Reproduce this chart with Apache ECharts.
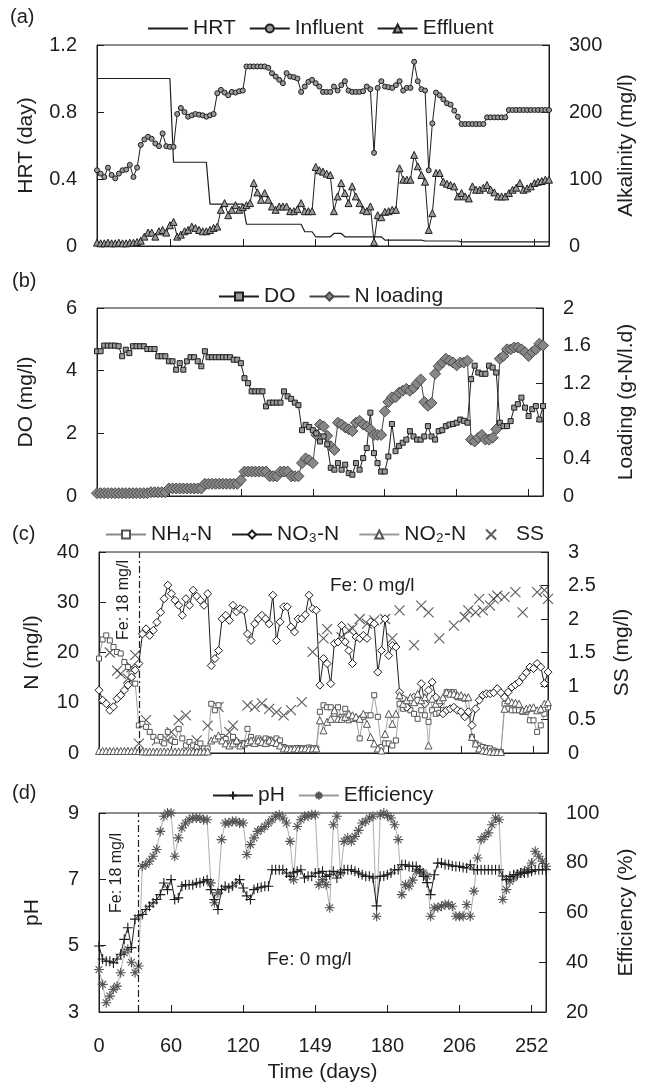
<!DOCTYPE html>
<html><head><meta charset="utf-8">
<script src="https://cdn.jsdelivr.net/npm/echarts@6/dist/echarts.min.js"></script>
<style>html,body{margin:0;padding:0;background:#fff}#c{width:645px;height:1086px}</style>
</head><body><div id="c"></div>
<script>
// ---------- DATA (sample index 0..124; ticks every 20 samples) ----------
const xLabels = ['0','60','120','149','180','206','252'];
const sampleNo = Array.from({length:125}, (_, i) => String(i));
const feChangeIdx = 11;

// (a) HRT (day), Influent / Effluent alkalinity (mg/l)
const hrt = [
 1,1,1,1,1,1,1,1,1,1,
 1,1,1,1,1,1,1,1,1,1,
 1,0.5,0.5,0.5,0.5,0.5,0.5,0.5,0.5,0.5,
 0.5,0.25,0.25,0.25,0.25,0.25,0.25,0.25,0.25,0.25,
 0.25,0.13,0.13,0.13,0.13,0.13,0.13,0.13,0.13,0.13,
 0.13,0.13,0.13,0.13,0.13,0.13,0.13,0.085,0.085,0.085,
 0.055,0.055,0.055,0.055,0.055,0.075,0.075,0.075,0.055,0.055,
 0.055,0.055,0.055,0.055,0.055,0.055,0.055,0.055,0.055,0.035,
 0.035,0.035,0.035,0.035,0.035,0.035,0.035,0.035,0.035,0.035,
 0.03,0.03,0.03,0.03,0.03,0.03,0.03,0.03,0.03,0.03,
 0.025,0.025,0.025,0.025,0.025,0.025,0.025,0.025,0.025,0.025,
 0.025,0.025,0.025,0.025,0.025,0.025,0.025,0.025,0.025,0.025,
 0.025,0.025,0.025,0.025,0.025];
const influent = [
 113,108,103,117,106,101,108,113,114,121,
 103,117,151,159,163,160,153,149,168,149,
 148,148,197,206,200,193,195,197,196,195,
 193,195,197,228,233,229,225,230,229,231,
 232,268,268,268,268,268,268,266,258,253,
 248,243,258,253,252,250,230,238,245,248,
 243,238,230,230,230,238,232,240,246,232,
 230,230,230,231,238,234,139,236,246,238,
 237,236,240,246,232,236,236,275,246,234,
 232,113,183,229,225,219,213,211,202,193,
 182,182,182,182,182,182,182,192,192,192,
 192,192,192,203,203,203,203,203,203,203,
 203,203,203,203,203];
const effluent = [
 5,4,4,5,4,4,5,4,4,5,
 5,6,8,14,20,20,14,22,24,20,
 31,36,14,17,22,24,29,27,24,22,
 22,24,27,29,54,64,46,54,61,54,
 58,61,64,94,80,69,79,69,59,54,
 59,59,59,52,52,55,64,52,52,52,
 118,113,111,108,106,52,74,94,79,64,
 89,74,64,54,52,59,6,46,43,51,
 52,54,54,116,99,99,99,136,119,106,
 96,24,49,109,109,96,93,91,89,74,
 79,74,71,89,84,84,87,91,84,80,
 74,74,74,79,84,87,94,84,86,89,
 94,96,97,99,99];

// (b) DO (mg/l), N loading (g-N/l.d)
const dissolvedO2 = [
 4.62,4.62,4.8,4.8,4.8,4.8,4.78,4.46,4.67,4.56,
 4.78,4.78,4.78,4.78,4.69,4.69,4.69,4.46,4.46,4.46,
 4.3,4.3,4.03,4.24,4.03,4.3,4.43,4.43,4.3,4.14,
 4.62,4.43,4.43,4.43,4.43,4.43,4.43,4.43,4.35,4.35,
 4.24,3.76,3.6,3.34,3.34,3.34,3.34,2.86,2.98,2.98,
 2.98,2.98,3.34,3.18,3.1,2.98,2.9,2.1,2.27,2.2,
 2.1,2.0,1.74,1.9,1.65,0.9,0.84,1.05,0.84,1.0,
 0.73,0.68,1.05,0.84,1.21,1.53,2.66,1.37,1.05,0.78,
 0.78,1.26,2.3,1.43,1.6,1.7,1.8,2.07,1.9,1.8,
 1.8,1.9,2.23,1.9,1.8,2.07,2.1,2.23,2.28,2.3,
 2.34,2.44,2.4,2.34,3.73,4.16,3.94,3.9,3.9,4.16,
 4.1,3.94,2.34,2.23,2.23,2.39,2.82,2.93,3.14,2.82,
 2.55,2.77,2.87,2.44,2.87];
const nLoading = [
 0.03,0.03,0.03,0.03,0.03,0.03,0.03,0.03,0.03,0.03,
 0.03,0.03,0.03,0.03,0.03,0.04,0.04,0.04,0.04,0.04,
 0.08,0.08,0.08,0.08,0.08,0.08,0.08,0.08,0.08,0.08,
 0.13,0.13,0.13,0.13,0.13,0.13,0.13,0.13,0.13,0.13,
 0.17,0.26,0.26,0.26,0.26,0.26,0.26,0.26,0.21,0.21,
 0.21,0.26,0.26,0.26,0.21,0.21,0.21,0.35,0.4,0.38,
 0.35,0.65,0.76,0.74,0.64,0.53,0.49,0.78,0.76,0.73,
 0.71,0.69,0.78,0.8,0.76,0.74,0.71,0.65,0.65,0.65,
 0.9,1.0,1.05,1.05,1.1,1.12,1.14,1.12,1.15,1.2,
 1.24,1.0,0.96,0.99,1.3,1.38,1.42,1.46,1.44,1.42,
 1.39,1.42,1.42,1.44,0.6,0.58,0.62,0.65,0.6,0.6,
 0.62,0.71,1.46,1.49,1.56,1.56,1.58,1.58,1.56,1.53,
 1.49,1.53,1.56,1.62,1.6];

// (c) N species (mg/l) and SS (mg/l)
const nh4 = [
 18.8,22.6,23.4,22.4,21.1,20.1,19.8,18.1,17.1,15.8,
 13.8,5.5,5.8,5.2,4.2,3.2,2.5,3.2,1.9,4.2,
 2.5,2.2,4.8,2.9,1.5,2.2,1.5,1.2,1.9,0.9,
 0.9,9.8,8.5,9.5,3.2,2.8,1.9,3.2,2.2,1.9,
 2.0,4.8,3.2,2.5,2.9,2.5,2.9,2.7,2.5,2.9,
 2.5,1.2,0.9,0.9,0.9,1.0,0.9,0.9,1.1,0.9,
 0.9,8.2,9.5,9.1,9.1,7.8,9.1,7.2,8.8,6.5,
 6.8,6.8,2.9,7.2,7.5,7.5,11.5,7.2,1.2,1.9,
 1.9,1.5,2.5,9.8,8.8,9.1,8.5,7.8,6.8,8.5,
 7.5,6.2,8.5,7.8,8.0,8.5,12.1,12.1,12.1,11.1,
 11.0,10.8,7.8,3.2,1.9,1.5,1.2,1.0,0.9,0.5,
 0.2,0.2,9.8,8.8,8.5,8.5,8.5,8.2,8.2,6.5,
 6.5,4.2,5.5,7.8,9.1];
const no3 = [
 12.5,10.5,9.8,8.5,9.2,10.8,11.5,12.5,13.5,15.1,
 16.5,17.8,23.7,24.7,23.4,24.4,26,28,30.7,33.4,
 31.7,30.4,29.4,27.4,30.7,29.4,32.4,31.2,30.4,29.4,
 31.7,17.4,18.8,20.4,26.7,27.4,26.4,29.4,28.1,28.7,
 28.4,23.7,22.4,25.7,26.7,27.4,26.7,25.7,31.4,22.4,
 26.1,29.1,29.1,25.1,24.1,26.7,26.7,27.5,31.4,28.7,
 28.4,13.5,18.8,17.8,13.8,21.8,22.1,25.4,22.1,20.4,
 17.8,23.1,22.8,23.4,22.8,26.1,25.7,16.1,20.4,26.7,
 19.4,21.4,21.1,12.1,10.8,9.1,10.1,11.1,10.5,13.8,
 9.8,12.5,14.1,11.1,9.8,7.8,8.5,8.8,9.1,8.5,
 8.2,7.2,8.2,5.5,8.8,10.5,11.5,11.8,11.8,12.0,
 12.8,12.0,11.1,12.1,13.1,13.6,14.1,15.1,16.0,17.1,
 16.8,17.8,17.1,13.8,16.1];
const no2 = [
 0.4,0.4,0.4,0.4,0.4,0.4,0.4,0.4,0.4,0.4,
 0.4,0.4,0.3,0.3,0.3,0.3,0.3,0.3,0.3,0.3,
 0.3,0.3,0.3,0.3,0.3,0.3,0.3,0.3,0.3,0.3,
 0.3,2.5,2.9,3.5,2.5,1.9,1.5,1.9,2.5,1.5,
 1.9,2.2,2.5,2.0,2.5,2.2,2.0,2.5,2.2,2.0,
 1.5,0.9,0.9,0.8,0.9,0.8,0.9,0.9,0.8,0.9,
 0.9,6.5,4.5,6.2,6.8,8.5,6.8,6.8,7.2,7.8,
 7.5,7.2,6.8,7.8,5.8,3.2,1.9,0.9,0.5,3.8,
 7.8,5.8,7.8,11.5,9.8,10.5,11.1,10.1,11.8,10.5,
 11.1,1.5,10.8,9.8,10.5,11.1,12.1,11.8,11.8,11.5,
 11.5,11.1,11.1,3.2,1.9,0.9,0.5,0.4,0.3,0.2,
 0.2,0.2,8.8,10.5,10.1,10.0,9.8,8.5,8.8,9.0,
 9.1,8.5,8.8,9.8,10.1];
const ssIdx = [3,5,6,8,9,10,11,13,16,19,20,22,24,27,30,33,36,37,41,43,45,47,49,51,53,56,59,62,63,67,69,70,72,74,76,79,81,83,87,89,91,94,98,101,102,104,105,106,108,109,110,112,115,117,121,123,124];
const ssVal = [1.5,1.23,1.18,1.11,1.28,1.46,0.14,0.49,0.19,0.19,0.31,0.49,0.56,0.19,0.41,0.69,0.31,0.41,0.71,0.69,0.74,0.66,0.61,0.56,0.64,0.76,1.51,1.71,1.85,1.73,1.83,1.86,2.0,1.93,1.98,2.0,1.71,2.13,1.61,2.2,2.1,1.71,1.9,2.03,2.13,2.1,2.3,2.13,2.2,2.3,2.35,2.33,2.4,2.1,2.4,2.43,2.3];

// (d) pH and removal efficiency (%)
const ph = [
 4.99,4.6,4.53,4.53,4.48,4.6,4.74,5.19,5.54,4.94,
 5.8,5.9,5.94,6.09,6.19,6.29,6.39,6.54,6.89,6.69,
 6.99,6.39,6.44,6.79,6.84,6.84,6.84,6.89,6.9,6.94,
 6.99,6.69,6.39,6.09,6.69,6.79,6.74,6.8,6.89,6.99,
 6.74,6.5,6.39,6.69,6.74,6.76,6.79,6.79,7.29,7.29,
 7.29,7.29,7.19,7.09,7.2,7.24,7.29,7.04,7.09,7.09,
 7.19,7.19,7.24,7.09,7.14,7.24,7.04,7.2,7.29,7.29,
 7.29,7.24,7.19,7.14,7.09,7.09,7.04,6.2,7.09,7.1,
 7.14,7.19,7.29,7.29,7.44,7.44,7.39,7.39,7.39,7.29,
 7.09,6.9,6.54,7.14,7.49,7.49,7.45,7.44,7.4,7.39,
 7.39,7.36,7.34,7.44,7.29,7.29,7.29,7.29,7.29,7.29,
 7.29,7.29,7.1,6.99,7.09,7.14,7.14,7.19,7.19,7.2,
 7.24,7.29,7.29,7.29,7.29];
const efficiency = [
 37.1,31.1,23.7,26.4,29.1,30.4,35.8,43.8,45.2,40,
 35.8,38.5,78.6,79.3,80.6,82.6,85.3,92.6,98.7,100,
 100,82.6,90,94,96,97.3,98,98,98,97.3,
 97.3,71.9,63.9,67.9,89.3,96,96,96.7,96.7,96,
 96,83.3,87.3,90,92.6,93.5,94.6,96,97.3,98.7,
 99.3,98,96,88.6,73.2,94.6,97.3,98.7,98.7,99.3,
 99.3,71.2,73.2,71.2,61.9,95.3,98.7,75.9,88.6,90,
 88.6,90.6,93,96,96.7,98,98.7,58.5,99.3,100,
 99,98,95.3,89.3,67.2,71.2,70.6,73,76.6,76.6,
 75.9,74.6,58.5,61.9,62,62.5,63.2,63.2,62.5,58.5,
 58.5,58.5,63.2,58.5,68.6,81.9,89.3,90.5,92,95.3,
 98,97.3,65.2,69.2,72.6,74,75.3,75.9,76.5,77.3,
 79.9,84.6,82.6,80.6,78.6];

// ---------- CHART ----------
const FONT = '"Liberation Sans", Arial, Helvetica, sans-serif';
const INK = '#1e1e1e';
const GRAY = '#9a9a9a';
const plusPath = 'path://M5,0L5,10M0,5L10,5';
const starPath = 'path://M5,0L5,10M0,5L10,5M1.6,1.6L8.4,8.4M8.4,1.6L1.6,8.4';
const crossPath = 'path://M0,0L10,10M10,0L0,10';

const grids = [
  {left:97, right:96, top:45, height:201, show:true, borderColor:INK, borderWidth:1},
  {left:97, right:102, top:308, height:188, show:true, borderColor:INK, borderWidth:1},
  {left:99, right:97, top:552, height:201, show:true, borderColor:INK, borderWidth:1},
  {left:99, right:94, top:813, height:199, show:true, borderColor:INK, borderWidth:1}
];

function xAxisFor(i, showLabels) {
  return {
    type:'category', gridIndex:i, data:sampleNo, boundaryGap:false,
    axisLine:{show:true, lineStyle:{color:INK, width:1}},
    axisTick:{show:true, inside:true, length:7, interval:19, lineStyle:{color:INK}},
    axisLabel:{show:showLabels, interval:19, margin:24, fontSize:20, color:INK, fontFamily:FONT,
      formatter:(v, idx) => (xLabels[idx / 20] !== undefined ? xLabels[idx / 20] : '')},
    splitLine:{show:false},
    name: showLabels ? 'Time (days)' : '', nameLocation:'middle', nameGap:50,
    nameTextStyle:{fontSize:21, color:INK, fontFamily:FONT}
  };
}
function yAxisFor(i, pos, min, max, interval, name, nameGap) {
  return {
    type:'value', gridIndex:i, position:pos, min:min, max:max, interval:interval,
    axisLine:{show:true, lineStyle:{color:INK, width:1}},
    axisTick:{show:true, inside:true, length:7, lineStyle:{color:INK}},
    axisLabel:{margin:20, fontSize:20, color:INK, fontFamily:FONT},
    splitLine:{show:false},
    name:name, nameLocation:'middle', nameGap:nameGap, nameRotate:90,
    nameTextStyle:{fontSize:21, color:INK, fontFamily:FONT}
  };
}

const legendCommon = {
  itemWidth:40, itemHeight:10, itemGap:13,
  textStyle:{fontSize:21, color:INK, fontFamily:FONT}
};

function lineSeries(name, xi, yi, data, opts) {
  return Object.assign({
    type:'line', name:name, xAxisIndex:xi, yAxisIndex:yi, data:data,
    showAllSymbol:true, animation:false
  }, opts);
}

const feMarkLine = {
  silent:true, symbol:['none','none'], label:{show:false},
  lineStyle:{type:[7,3,2,3], color:INK, width:1.2},
  data:[{xAxis: feChangeIdx}]
};

const option = {
  animation:false,
  backgroundColor:'#fff',
  grid: grids,
  xAxis: [xAxisFor(0,false), xAxisFor(1,false), xAxisFor(2,false), xAxisFor(3,true)],
  yAxis: [
    yAxisFor(0,'left',0,1.2,0.4,'HRT (day)',60),
    yAxisFor(0,'right',0,300,100,'Alkalinity (mg/l)',67),
    yAxisFor(1,'left',0,6,2,'DO (mg/l)',60),
    yAxisFor(1,'right',0,2,0.4,'Loading (g-N/l.d)',73),
    yAxisFor(2,'left',0,40,10,'N (mg/l)',56),
    yAxisFor(2,'right',0,3,0.5,'SS (mg/l)',64),
    yAxisFor(3,'left',3,9,2,'pH',56),
    yAxisFor(3,'right',20,100,20,'Efficiency (%)',70)
  ],
  legend: [
    Object.assign({data:[
      {name:'HRT', itemStyle:{color:'rgba(0,0,0,0)', borderColor:'rgba(0,0,0,0)', borderWidth:0, opacity:0}},
      'Influent','Effluent'], left:142, top:13}, legendCommon),
    Object.assign({data:['DO','N loading'], left:213, top:281}, legendCommon),
    Object.assign({data:['NH\u2084-N','NO\u2083-N','NO\u2082-N','SS'], left:100, top:519}, legendCommon, {itemGap:19}),
    Object.assign({data:['pH','Efficiency'], left:207, top:780}, legendCommon)
  ],
  graphic: [
    {type:'text', left:10, top:7, style:{text:'(a)', fontSize:20, fill:INK, fontFamily:FONT}},
    {type:'text', left:12, top:271, style:{text:'(b)', fontSize:20, fill:INK, fontFamily:FONT}},
    {type:'text', left:12, top:524, style:{text:'(c)', fontSize:20, fill:INK, fontFamily:FONT}},
    {type:'text', left:12, top:783, style:{text:'(d)', fontSize:20, fill:INK, fontFamily:FONT}},
    {type:'text', x:124, y:600, rotation:Math.PI/2,
      style:{text:'Fe: 18 mg/l', fontSize:16, fill:INK, fontFamily:FONT, align:'center', verticalAlign:'middle'}},
    {type:'text', x:330, y:586,
      style:{text:'Fe: 0 mg/l', fontSize:19, fill:INK, fontFamily:FONT, align:'left', verticalAlign:'middle'}},
    {type:'text', x:117, y:873, rotation:Math.PI/2,
      style:{text:'Fe: 18 mg/l', fontSize:16, fill:INK, fontFamily:FONT, align:'center', verticalAlign:'middle'}},
    {type:'text', x:267, y:960,
      style:{text:'Fe: 0 mg/l', fontSize:19, fill:INK, fontFamily:FONT, align:'left', verticalAlign:'middle'}}
  ],
  series: [
    // (a)
    lineSeries('HRT',0,0,hrt,{symbol:'none', lineStyle:{color:INK, width:1.2}, itemStyle:{color:INK}}),
    lineSeries('Influent',0,1,influent,{symbol:'circle', symbolSize:5,
      lineStyle:{color:INK, width:1}, itemStyle:{color:GRAY, borderColor:INK, borderWidth:1}}),
    lineSeries('Effluent',0,1,effluent,{symbol:'triangle', symbolSize:7,
      lineStyle:{color:INK, width:1}, itemStyle:{color:GRAY, borderColor:INK, borderWidth:1}}),
    // (b)
    lineSeries('N loading',1,3,nLoading,{symbol:'diamond', symbolSize:11,
      lineStyle:{color:'#444', width:1}, itemStyle:{color:'#878787', borderColor:'#4a4a4a', borderWidth:1}}),
    lineSeries('DO',1,2,dissolvedO2,{symbol:'rect', symbolSize:5,
      lineStyle:{color:INK, width:1}, itemStyle:{color:GRAY, borderColor:INK, borderWidth:1}}),
    // (c)
    lineSeries('NH\u2084-N',2,4,nh4,{symbol:'rect', symbolSize:5,
      lineStyle:{color:'#8a8a8a', width:0.8}, itemStyle:{color:'#fff', borderColor:'#555', borderWidth:1},
      markLine: feMarkLine}),
    lineSeries('NO\u2083-N',2,4,no3,{symbol:'diamond', symbolSize:8,
      lineStyle:{color:INK, width:1}, itemStyle:{color:'#fff', borderColor:INK, borderWidth:1}}),
    lineSeries('NO\u2082-N',2,4,no2,{symbol:'triangle', symbolSize:7,
      lineStyle:{color:'#999', width:0.8}, itemStyle:{color:'#fff', borderColor:'#555', borderWidth:1}}),
    {type:'scatter', name:'SS', xAxisIndex:2, yAxisIndex:5, symbol:crossPath, symbolSize:10,
      data: ssIdx.map((d, k) => [d, ssVal[k]]),
      itemStyle:{color:'#333', borderColor:'#333', borderWidth:1.1}},
    // (d)
    lineSeries('Efficiency',3,7,efficiency,{symbol:starPath, symbolSize:10,
      lineStyle:{color:'#9a9a9a', width:0.8}, itemStyle:{color:'#555', borderColor:'#555', borderWidth:1.1}}),
    lineSeries('pH',3,6,ph,{symbol:plusPath, symbolSize:10,
      lineStyle:{color:INK, width:1}, itemStyle:{color:INK, borderColor:INK, borderWidth:1.1},
      markLine: feMarkLine})
  ]
};

const chart = echarts.init(document.getElementById('c'), null, {renderer:'canvas'});
chart.setOption(option);
</script>
</body></html>
